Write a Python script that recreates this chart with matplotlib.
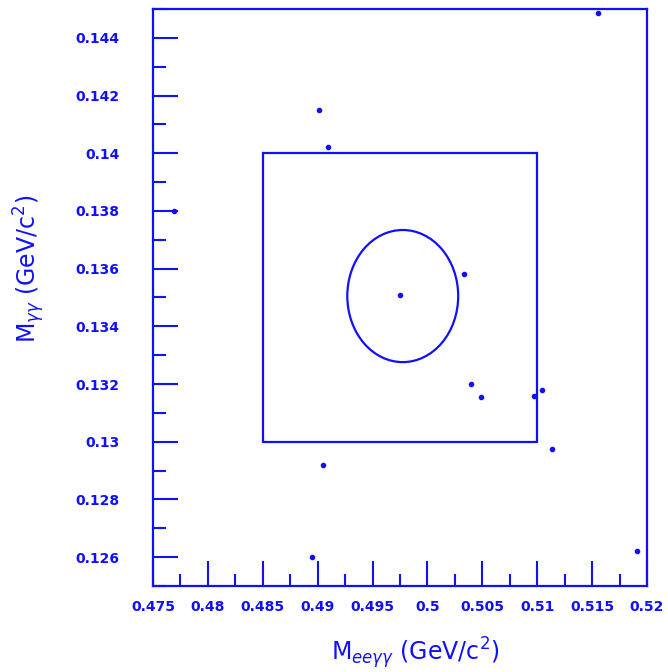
import matplotlib

matplotlib.use("Agg")
import matplotlib.pyplot as plt
from matplotlib.patches import Ellipse, Rectangle
from matplotlib.ticker import MultipleLocator

# candidate events: M(ee gamma gamma) vs M(gamma gamma), GeV/c^2
m_eegg = [0.4901, 0.4909, 0.4769, 0.4975, 0.5033, 0.5040, 0.5049, 0.5097,
          0.5104, 0.5113, 0.4905, 0.4895, 0.5191, 0.5155]
m_gg = [0.1415, 0.1402, 0.1380, 0.1351, 0.1358, 0.1320, 0.13155, 0.1316,
        0.1318, 0.12976, 0.1292, 0.1260, 0.1262, 0.14486]

# signal box and elliptical signal region
box_x = (0.485, 0.510)
box_y = (0.130, 0.140)
ell_center = (0.49775, 0.13505)
ell_halfwidth = (0.00505, 0.00229)

x_range = (0.475, 0.520)
y_range = (0.125, 0.145)

col = "#1010ff"

fig = plt.figure(figsize=(6.68, 6.72), dpi=100)
ax = fig.add_axes([0.229, 0.128, 0.7396, 0.8586])

ax.plot(m_eegg, m_gg, "o", ms=3, color=col, mec=col)

ax.add_patch(Rectangle((box_x[0], box_y[0]), box_x[1] - box_x[0],
                       box_y[1] - box_y[0], fill=False, ec=col, lw=1.6))
ax.add_patch(Ellipse(ell_center, 2 * ell_halfwidth[0], 2 * ell_halfwidth[1],
                     fill=False, ec=col, lw=1.6))

ax.set_xlim(*x_range)
ax.set_ylim(*y_range)

ax.xaxis.set_major_locator(MultipleLocator(0.005))
ax.xaxis.set_minor_locator(MultipleLocator(0.0025))
ax.yaxis.set_major_locator(MultipleLocator(0.002))
ax.yaxis.set_minor_locator(MultipleLocator(0.001))
ax.xaxis.set_major_formatter(plt.FuncFormatter(lambda v, p: f"{v:.3f}".rstrip("0")))
ax.yaxis.set_major_formatter(plt.FuncFormatter(lambda v, p: f"{v:.3f}".rstrip("0")))

for s in ax.spines.values():
    s.set_color(col)
    s.set_linewidth(1.6)

ax.tick_params(which="both", direction="in", colors=col, top=False, right=False,
               width=1.5, labelsize=10)
ax.tick_params(which="major", length=18)
ax.tick_params(which="minor", length=9)
ax.tick_params(axis="y", which="major", pad=24)
ax.tick_params(axis="x", which="major", pad=10)
for lbl in ax.get_xticklabels() + ax.get_yticklabels():
    lbl.set_fontweight("bold")

ax.set_xlabel(r"M$_{ee\gamma\gamma}$ (GeV/c$^2$)", fontsize=17, color=col)
ax.set_ylabel(r"M$_{\gamma\gamma}$ (GeV/c$^2$)", fontsize=17, color=col)
ax.xaxis.set_label_coords(0.53, -0.085)
ax.yaxis.set_label_coords(-0.215, 0.55)

fig.savefig("out.png", dpi=100)
